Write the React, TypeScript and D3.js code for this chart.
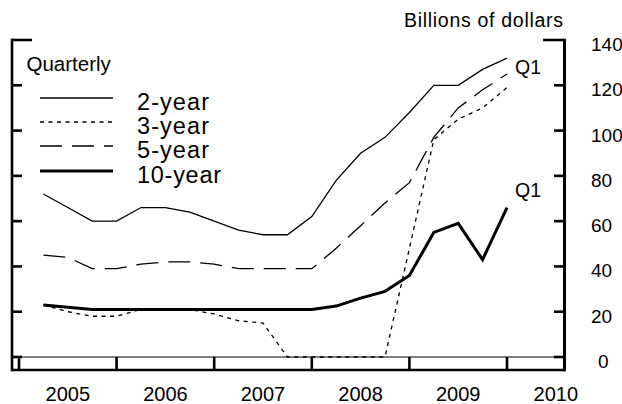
import React from 'react';
import * as d3 from 'd3';

// quarterly observations, Q2 2005 through Q1 2010
const quarters = [
  '2005Q2', '2005Q3', '2005Q4', '2006Q1', '2006Q2', '2006Q3', '2006Q4',
  '2007Q1', '2007Q2', '2007Q3', '2007Q4', '2008Q1', '2008Q2', '2008Q3',
  '2008Q4', '2009Q1', '2009Q2', '2009Q3', '2009Q4', '2010Q1',
];

const twoYear = [72, 66, 60, 60, 66, 66, 64, 60, 56, 54, 54, 62, 78, 90, 97, 108, 120, 120, 127, 132];
const threeYear = [23, 20, 18, 18, 21, 21, 21, 19, 16, 15, 0, 0, 0, 0, 0, 48, 96, 105, 110, 119];
const fiveYear = [45, 44, 39, 39, 41, 42, 42, 41, 39, 39, 39, 39, 48, 58, 68, 77, 97, 110, 118, 125];
const tenYear = [23, 22, 21, 21, 21, 21, 21, 21, 21, 21, 21, 21, 22.5, 26, 29, 36, 55, 59, 43, 66];

const yTicks = [0, 20, 40, 60, 80, 100, 120, 140];
const years = [2005, 2006, 2007, 2008, 2009, 2010];
const yearLabels = ['2005', '2006', '2007', '2008', '2009', '2010'];

const FONT = '"Liberation Sans", Arial, Helvetica, sans-serif';

const qPos = (q: string) => +q.slice(0, 4) + (+q.slice(5) - 1) / 4;

const App: React.FC = () => {
  const width = 622;
  const height = 404;
  const frame = { left: 12, right: 564.5, bottom: 370 };

  const x = d3.scaleLinear().domain([2005, 2010]).range([19, 507]);
  const y = d3.scaleLinear().domain([0, 140]).range([357, 40]);

  const series = [
    { name: '2-year', values: twoYear, dash: 'none', w: 1.3, labelW: 72 },
    { name: '3-year', values: threeYear, dash: '4,4.5', w: 1.3, labelW: 72 },
    { name: '5-year', values: fiveYear, dash: '22,10', w: 1.3, labelW: 72 },
    { name: '10-year', values: tenYear, dash: 'none', w: 3, labelW: 84 },
  ];

  const line = d3
    .line<number>()
    .x((_, i) => x(qPos(quarters[i])))
    .y(d => y(d));

  const legendY = [98, 122, 146, 171];
  const last = quarters.length - 1;

  return (
    <svg
      width={width}
      height={height}
      style={{ position: 'absolute', left: 0, top: 0, background: '#fff' }}
      fontFamily={FONT}
    >
      {/* zero line */}
      <line x1={frame.left} x2={frame.right} y1={y(0)} y2={y(0)} stroke="#000" strokeWidth={1.2} />

      {/* series */}
      {series.map(s => (
        <path
          key={s.name}
          d={line(s.values) || ''}
          fill="none"
          stroke="#000"
          strokeWidth={s.w}
          strokeDasharray={s.dash}
        />
      ))}

      {/* left axis */}
      <line x1={frame.left} x2={frame.left} y1={y(140) - 1.3} y2={frame.bottom + 1.3} stroke="#000" strokeWidth={2.6} />
      {yTicks.map(t => (
        <line
          key={'l' + t}
          x1={frame.left}
          x2={t === 140 ? 32 : 22}
          y1={y(t)}
          y2={y(t)}
          stroke="#000"
          strokeWidth={2.6}
        />
      ))}

      {/* right axis */}
      <line x1={frame.right} x2={frame.right} y1={y(140) - 1.3} y2={frame.bottom + 1.3} stroke="#000" strokeWidth={3} />
      {yTicks.map(t => (
        <line
          key={'r' + t}
          x1={t === 140 ? 543 : 554}
          x2={frame.right}
          y1={y(t)}
          y2={y(t)}
          stroke="#000"
          strokeWidth={2.6}
        />
      ))}
      {yTicks.map(t => (
        <text
          key={'rl' + t}
          x={t === 0 ? 598 : 591}
          y={y(t) + 11}
          fontSize={19}
          fill="#000"
        >
          {t}
        </text>
      ))}

      {/* bottom axis */}
      <line x1={frame.left} x2={frame.right} y1={frame.bottom} y2={frame.bottom} stroke="#000" strokeWidth={2.6} />
      {years.map(yr => (
        <line
          key={'t' + yr}
          x1={x(yr)}
          x2={x(yr)}
          y1={y(0)}
          y2={frame.bottom}
          stroke="#000"
          strokeWidth={2.6}
        />
      ))}
      {years.map((yr, i) => (
        <text
          key={'y' + yr}
          x={x(yr + 0.5)}
          y={401}
          fontSize={20}
          textAnchor="middle"
          fill="#000"
        >
          {yearLabels[i]}
        </text>
      ))}

      {/* unit label */}
      <text x={404} y={26.5} fontSize={19.5} textLength={159} lengthAdjust="spacing" fill="#000">
        Billions of dollars
      </text>

      {/* legend */}
      <text x={26.5} y={70.5} fontSize={20.5} fill="#000">
        Quarterly
      </text>
      {series.map((s, i) => (
        <g key={'lg' + s.name}>
          <line
            x1={40}
            x2={113}
            y1={legendY[i]}
            y2={legendY[i]}
            stroke="#000"
            strokeWidth={s.w}
            strokeDasharray={s.dash}
          />
          <text
            x={137}
            y={legendY[i] + 12}
            fontSize={23.5}
            textLength={s.labelW}
            lengthAdjust="spacing"
            fill="#000"
          >
            {s.name}
          </text>
        </g>
      ))}

      {/* end-point annotations */}
      <text x={515} y={y(twoYear[last]) + 16} fontSize={19.5} fill="#000">
        Q1
      </text>
      <text x={515} y={y(tenYear[last]) - 11} fontSize={19.5} fill="#000">
        Q1
      </text>
    </svg>
  );
};

export default App;
